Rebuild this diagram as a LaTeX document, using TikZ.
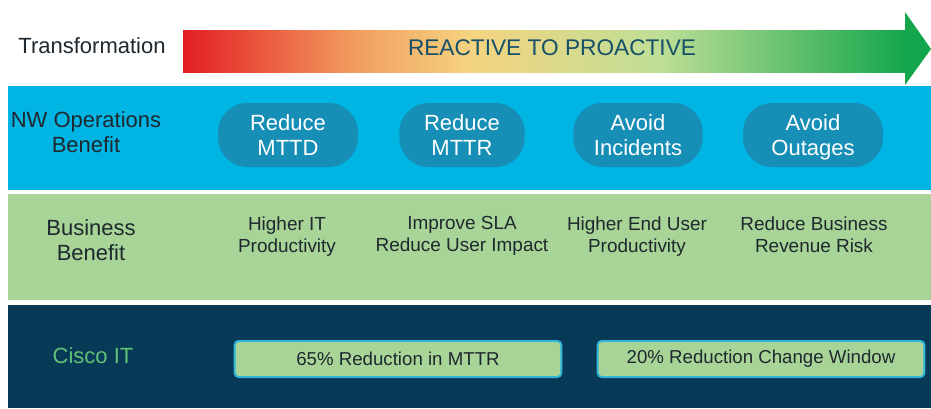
\documentclass[tikz,border=0pt]{standalone}
\usepackage{fontspec}
\setmainfont{Liberation Sans}
\usepackage{xcolor}
\usetikzlibrary{arrows.meta,calc,positioning,shapes.geometric}
\definecolor{bandcyan}{RGB}{0,180,228}
\definecolor{pillblue}{RGB}{22,142,182}
\definecolor{bandgreen}{RGB}{168,213,151}
\definecolor{banddark}{RGB}{7,58,86}
\definecolor{ciscogreen}{RGB}{98,194,118}
\definecolor{boxedge}{RGB}{50,182,218}
\definecolor{labeldark}{RGB}{30,40,46}
\definecolor{titleteal}{RGB}{22,80,104}
\definecolor{arrred}{RGB}{226,30,36}
\definecolor{arrorange}{RGB}{242,158,96}
\definecolor{arryellow}{RGB}{244,212,128}
\definecolor{arrlight}{RGB}{190,222,150}
\definecolor{arrgreen}{RGB}{20,166,76}
\pgfdeclarehorizontalshading{reactive}{100bp}{color(0bp)=(arrred); color(25bp)=(arrred);
  color(37bp)=(arrorange); color(45bp)=(arryellow); color(58bp)=(arrlight);
  color(75bp)=(arrgreen); color(100bp)=(arrgreen)}

\begin{document}
\begin{tikzpicture}[
  x=0.75pt, y=-0.75pt,
  rowlabel/.style={align=center, text=labeldark, font=\fontsize{16.5}{18.75}\selectfont},
  pill/.style={fill=pillblue, rounded corners=22pt, minimum height=48pt, text depth=0pt,
               align=center, text=white, font=\fontsize{16.5}{18.75}\selectfont},
  gain/.style={align=center, text=labeldark, text depth=4pt,
               font=\fontsize{14.2}{16.5}\selectfont},
  result/.style={draw=boxedge, line width=1.5pt, fill=bandgreen, rounded corners=3pt,
                 minimum width=245pt, minimum height=27pt, text=labeldark,
                 font=\fontsize{14}{16}\selectfont}
]
  \useasboundingbox (0,0) rectangle (931,408);
  \fill[white] (0,0) rectangle (931,408);

  % Transformation arrow
  \shade[shading=reactive] (183,30) rectangle (906,72);
  \fill[arrgreen] (905,12) -- (931,49) -- (905,85) -- cycle;
  \node[rowlabel] (trans) at (92,46) {Transformation};
  \node[text=titleteal, font=\fontsize{17}{20}\selectfont] (title) at (552,48) {REACTIVE TO PROACTIVE};

  % Bands
  \fill[bandcyan] (8,86) rectangle (931,190);
  \fill[bandgreen] (8,194) rectangle (931,300);
  \fill[banddark] (8,305) rectangle (931,408);

  % NW operations
  \node[rowlabel] (nwops) at (86,132) {NW Operations\\Benefit};
  \node[pill, minimum width=105pt] (mttd) at (288,135) {Reduce\\MTTD};
  \node[pill, minimum width=94pt] (mttr) at (462,135) {Reduce\\MTTR};
  \node[pill, minimum width=97pt] (incid) at (638,135) {Avoid\\Incidents};
  \node[pill, minimum width=105pt] (outage) at (813,135) {Avoid\\Outages};

  % Business side
  \node[rowlabel] (business) at (91,240) {Business\\Benefit};
  \node[gain] (itprod) at (287,237) {Higher IT\\Productivity};
  \node[gain] (sla) at (462,237) {Improve SLA\\Reduce User Impact};
  \node[gain] (userprod) at (637,237) {Higher End User\\Productivity};
  \node[gain] (revenue) at (814,237) {Reduce Business\\Revenue Risk};

  % Cisco IT
  \node[rowlabel, text=ciscogreen] (cisco) at (93,356) {Cisco IT};
  \node[result] (mttrcut) at (398,359) {65\% Reduction in MTTR};
  \node[result] (changecut) at (761,359) {20\% Reduction Change Window};

\end{tikzpicture}
\end{document}
